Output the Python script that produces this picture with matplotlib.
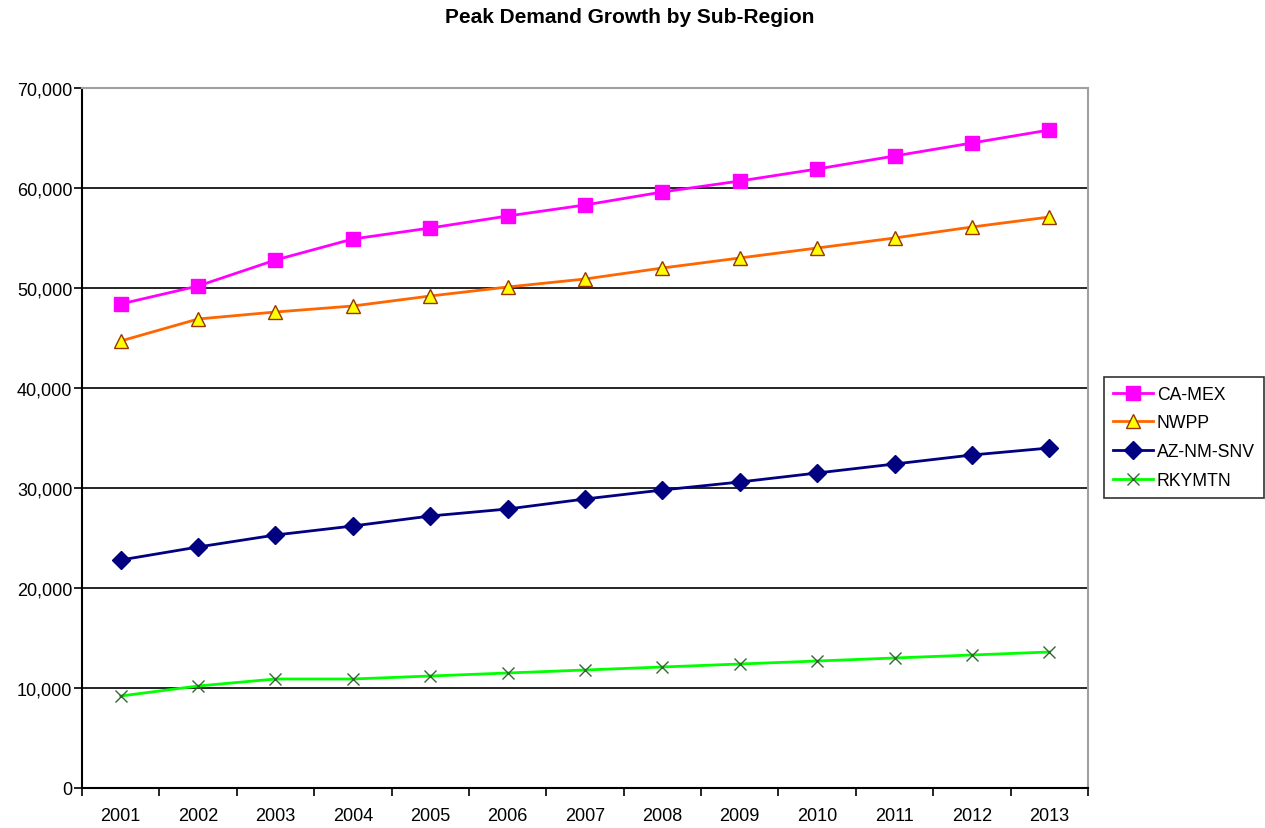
import matplotlib
matplotlib.use("Agg")
import matplotlib.pyplot as plt
from matplotlib.ticker import FuncFormatter, FixedLocator

plt.rcParams['font.family'] = ['Liberation Sans', 'DejaVu Sans']

years = ['2001', '2002', '2003', '2004', '2005', '2006', '2007',
         '2008', '2009', '2010', '2011', '2012', '2013']
ca_mex = [48400, 50200, 52800, 54900, 56000, 57200, 58300,
          59600, 60700, 61900, 63200, 64500, 65800]
nwpp = [44700, 46900, 47600, 48200, 49200, 50100, 50900,
        52000, 53000, 54000, 55000, 56100, 57100]
az_nm_snv = [22800, 24100, 25300, 26200, 27200, 27900, 28900,
             29800, 30600, 31500, 32400, 33300, 34000]
rkymtn = [9200, 10200, 10900, 10900, 11200, 11500, 11800,
          12100, 12400, 12700, 13000, 13300, 13600]

W, H = 1265, 829
fig = plt.figure(figsize=(W / 100, H / 100), dpi=100)
ax = fig.add_axes([82 / W, 1 - 789 / H, (1088 - 82) / W, (789 - 89) / H])

x = list(range(len(years)))
ax.plot(x, ca_mex, color='#FF00FF', lw=2, marker='s', ms=10.5,
        mfc='#FF00FF', mec='#FF00FF', label='CA-MEX', zorder=4)
ax.plot(x, nwpp, color='#FF6600', lw=2, marker='^', ms=10,
        mfc='#FFFF00', mec='#993300', mew=1, label='NWPP', zorder=4)
ax.plot(x, az_nm_snv, color='#000080', lw=2, marker='D', ms=9,
        mfc='#000080', mec='#000080', label='AZ-NM-SNV', zorder=4)
ax.plot(x, rkymtn, color='#00FF00', lw=2, marker='x', ms=9,
        mec='#336633', mew=1, label='RKYMTN', zorder=4)

ax.set_xlim(-0.5, len(years) - 0.5)
ax.set_ylim(0, 70000)
ax.set_yticks(range(0, 70001, 10000))
ax.yaxis.set_major_formatter(FuncFormatter(lambda v, p: f'{int(v):,}'))
ax.set_xticks(x)
ax.set_xticklabels(years)
ax.xaxis.set_minor_locator(FixedLocator([i - 0.5 for i in range(len(years) + 1)]))
ax.tick_params(axis='x', which='major', length=0, pad=14, labelsize=13)
ax.tick_params(axis='x', which='minor', length=6, width=1.2, direction='out', color='black')
ax.tick_params(axis='y', length=6, width=1.2, direction='out', labelsize=13, pad=1)

ax.grid(axis='y', color='black', lw=1.2)
ax.set_axisbelow(True)
for s in ['top', 'right']:
    ax.spines[s].set_color('#A0A0A0')
    ax.spines[s].set_linewidth(1.5)
for s in ['left', 'bottom']:
    ax.spines[s].set_color('black')
    ax.spines[s].set_linewidth(1.5)

fig.suptitle('Peak Demand Growth by Sub-Region', x=630 / W,
             y=1 - 8 / H, fontsize=15, fontweight='bold', va='top')

leg = fig.legend(loc='upper left', bbox_to_anchor=(1104 / W, 1 - 378 / H),
                 frameon=True, fancybox=False, edgecolor='black', fontsize=12.7,
                 handlelength=2.3, borderpad=0.5, borderaxespad=0,
                 labelspacing=0.66, handletextpad=0.2)
leg.get_frame().set_linewidth(1.2)

fig.savefig('out.png', dpi=100)
